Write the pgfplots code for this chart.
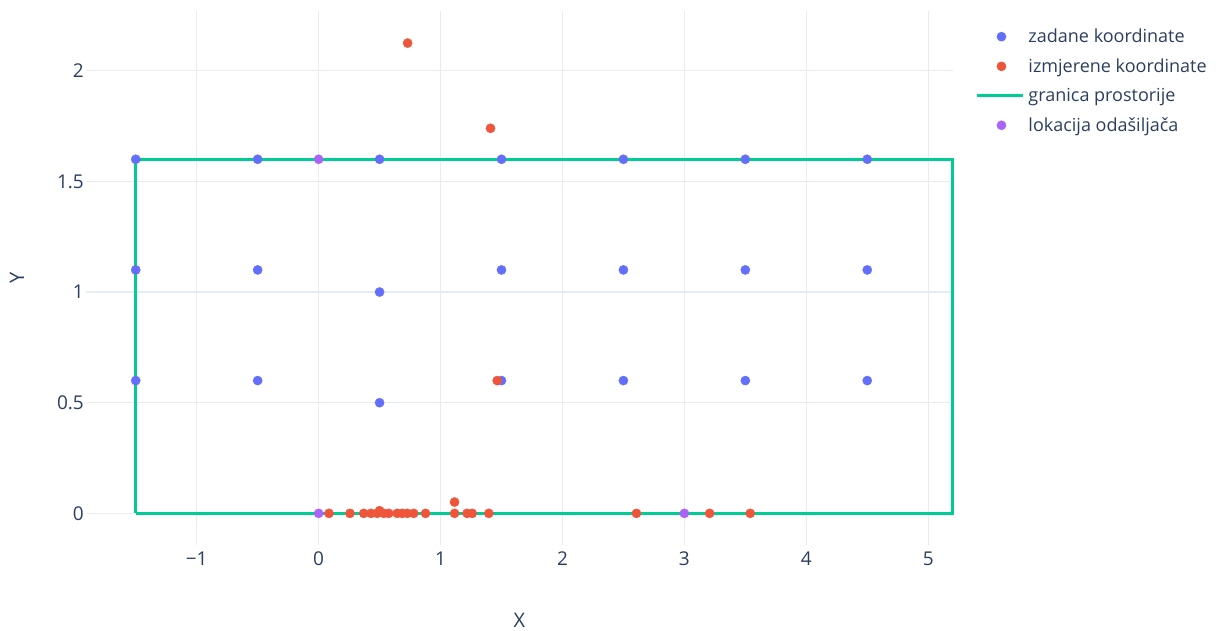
\documentclass[border=0pt]{standalone}
\usepackage{fontspec}
\setmainfont{Open Sans}
\usepackage{pgfplots}
\pgfplotsset{compat=1.18}
\definecolor{pblue}{HTML}{636EFA}
\definecolor{pred}{HTML}{EF553B}
\definecolor{pgreen}{HTML}{00CC96}
\definecolor{ppurple}{HTML}{AB63FA}
\definecolor{ptext}{HTML}{2A3F5F}
\definecolor{pgrid}{HTML}{E6ECF5}
\begin{document}
\begin{tikzpicture}
\begin{axis}[
  scale only axis, width=866.6pt, height=534pt,
  xmin=-1.908, xmax=5.2, ymin=-0.143, ymax=2.27,
  clip=false,
  axis line style={draw=none},
  tick style={draw=none},
  grid=major, major grid style={color=pgrid, line width=1.2pt},
  xtick={-1,0,1,2,3,4,5},
  xticklabels={−1,0,1,2,3,4,5},
  ytick={0,0.5,1,1.5,2},
  yticklabels={0,0.5,1,1.5,2},
  tick label style={font=\fontsize{19}{21}\selectfont, color=ptext},
  xticklabel style={inner sep=0pt, yshift=-7pt},
  yticklabel style={inner sep=0pt, xshift=-2pt},
  xlabel={X}, ylabel={Y},
  xlabel style={at={(axis description cs:0.5,0)}, anchor=center, yshift=-75pt, font=\fontsize{20}{22}\selectfont, color=ptext},
  ylabel style={at={(axis description cs:0,0.5)}, anchor=center, xshift=0pt, yshift=69pt, font=\fontsize{20}{22}\selectfont, color=ptext},
  legend style={at={(1.0235,0.974)}, anchor=north west, draw=none, fill=none,
    font=\fontsize{18}{20}\selectfont, text=ptext, row sep=10.5pt,
    cells={anchor=west}},
  legend image code/.code={\draw[mark repeat=2,mark phase=2,#1] plot coordinates {(0pt,0pt)(24pt,0pt)(46pt,0pt)}; \path[draw=none,fill=none] (0pt,0pt) rectangle (49pt,0.1pt);},
]
\addplot[only marks, mark=*, mark size=4.6pt, color=pblue, mark options={draw=none, fill=pblue}] coordinates {
(-1.5,1.6) (-1.5,1.1) (-1.5,0.6)
(-0.5,1.6) (-0.5,1.1) (-0.5,0.6)
(0.5,1.6) (0.5,1.0) (0.5,0.5)
(1.5,1.6) (1.5,1.1) (1.5,0.6)
(2.5,1.6) (2.5,1.1) (2.5,0.6)
(3.5,1.6) (3.5,1.1) (3.5,0.6)
(4.5,1.6) (4.5,1.1) (4.5,0.6)
};
\addlegendentry{zadane koordinate}
\addplot[only marks, mark=*, mark size=4.6pt, color=pred, mark options={draw=none, fill=pred}] coordinates {
(0.73,2.125) (1.41,1.74) (1.465,0.6) (1.115,0.051)
(0.085,0) (0.257,0) (0.37,0) (0.43,0) (0.48,0) (0.5,0.012) (0.535,0) (0.575,0)
(0.645,0) (0.686,0) (0.727,0) (0.78,0) (0.877,0) (1.115,0) (1.218,0) (1.26,0)
(1.396,0) (2.607,0) (3.207,0) (3.54,0)
};
\addlegendentry{izmjerene koordinate}
\addplot[color=pgreen, line width=2.6pt, mark=none] coordinates {
(-1.5,0) (-1.5,1.6) (5.2,1.6) (5.2,0) (-1.5,0)
};
\addlegendentry{granica prostorije}
\addplot[only marks, mark=*, mark size=4.6pt, color=ppurple, mark options={draw=none, fill=ppurple}] coordinates {
(0,1.6) (0,0) (3,0)
};
\addlegendentry{lokacija odašiljača}
\coordinate (sw) at (rel axis cs:0,0);
\end{axis}
\pgfresetboundingbox
\useasboundingbox ([shift={(-86pt,-85pt)}]sw) rectangle ++(1224pt,630pt);
\end{tikzpicture}
\end{document}
